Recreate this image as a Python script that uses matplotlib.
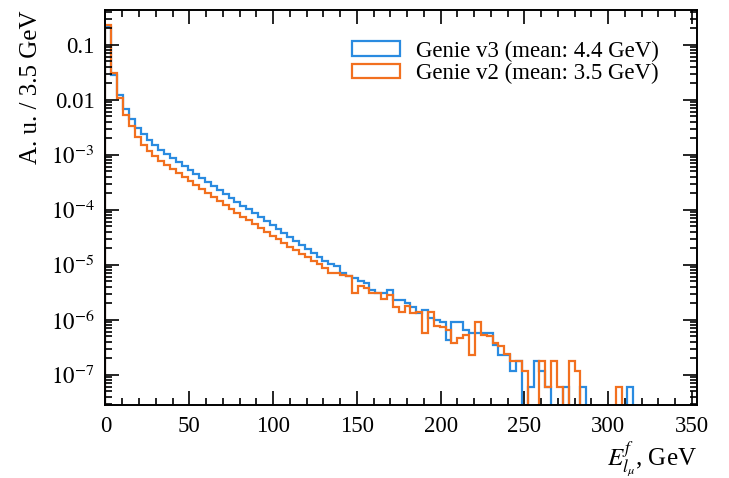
import numpy as np
import matplotlib
matplotlib.use("Agg")
import matplotlib.pyplot as plt
from matplotlib.patches import Patch
from matplotlib.ticker import MultipleLocator, LogLocator, FuncFormatter, NullFormatter

# distribuicao normalizada, bins de 3.5 GeV entre 0 e 350 GeV
bin_edges = np.linspace(0, 350, 101)

genie_v3 = [0.212, 0.0285, 0.0123, 6.78e-3, 4.46e-3, 3.13e-3, 2.41e-3, 1.87e-3, 1.52e-3, 1.23e-3,
            1.04e-3, 8.82e-4, 7.46e-4, 6.31e-4, 5.34e-4, 4.51e-4, 3.82e-4, 3.23e-4, 2.73e-4, 2.31e-4,
            1.95e-4, 1.65e-4, 1.40e-4, 1.18e-4, 1.02e-4, 8.63e-5, 7.31e-5, 6.18e-5, 5.23e-5, 4.42e-5,
            3.74e-5, 3.16e-5, 2.67e-5, 2.31e-5, 1.95e-5, 1.65e-5, 1.40e-5, 1.18e-5, 1.02e-5, 9.6e-6,
            7.0e-6, 6.3e-6, 5.7e-6, 5.0e-6, 4.6e-6, 3.5e-6, 3.1e-6, 3.1e-6, 3.5e-6, 2.3e-6,
            2.3e-6, 2.0e-6, 1.75e-6, 1.35e-6, 1.52e-6, 1.1e-6, 1.0e-6, 9.3e-7, 4.3e-7, 9.0e-7,
            9.0e-7, 6.6e-7, 5.8e-7, 5.7e-7, 5.7e-7, 5.7e-7, 3.5e-7, 2.3e-7, 2.3e-7, 1.2e-7,
            1.8e-7, 0, 6e-8, 1.8e-7, 1.2e-7, 6e-8, 0, 0, 6e-8, 0,
            0, 6e-8, 0, 0, 0, 0, 0, 0, 0, 6e-8,
            0, 0, 0, 0, 0, 0, 0, 0, 0, 0]

genie_v2 = [0.231, 0.031, 0.0110, 5.34e-3, 3.37e-3, 2.12e-3, 1.52e-3, 1.18e-3, 9.39e-4, 7.62e-4,
            6.44e-4, 5.45e-4, 4.61e-4, 3.90e-4, 3.30e-4, 2.79e-4, 2.36e-4, 2.0e-4, 1.72e-4, 1.46e-4,
            1.23e-4, 1.04e-4, 8.82e-5, 7.46e-5, 6.44e-5, 5.45e-5, 4.71e-5, 3.98e-5, 3.37e-5, 2.91e-5,
            2.51e-5, 2.12e-5, 1.84e-5, 1.58e-5, 1.37e-5, 1.18e-5, 1.02e-5, 8.8e-6, 7.2e-6, 7.1e-6,
            6.6e-6, 6.3e-6, 3.05e-6, 4.15e-6, 3.77e-6, 3.14e-6, 3.14e-6, 2.38e-6, 2.85e-6, 1.75e-6,
            1.42e-6, 1.8e-6, 1.32e-6, 1.42e-6, 5.7e-7, 1.42e-6, 7.8e-7, 7.4e-7, 6.6e-7, 3.77e-7,
            4.6e-7, 5.3e-7, 2.3e-7, 9.3e-7, 5.3e-7, 5.0e-7, 3.8e-7, 3.3e-7, 2.4e-7, 1.8e-7,
            1.8e-7, 1.2e-7, 0, 0, 1.8e-7, 6e-8, 1.8e-7, 6e-8, 0, 1.8e-7,
            1.2e-7, 0, 0, 0, 0, 0, 0, 6e-8, 0, 0,
            0, 0, 0, 0, 0, 0, 0, 0, 0, 0]

labels = ["Genie v3 (mean: 4.4 GeV)", "Genie v2 (mean: 3.5 GeV)"]
cores = ["#2a8be0", "#f2701f"]

plt.rcParams['font.family'] = ['Liberation Serif', 'DejaVu Serif']
plt.rcParams['mathtext.fontset'] = 'stix'

fig = plt.figure(figsize=(7.29, 4.78), dpi=100)
ax = fig.add_axes([0.1447, 0.153, 0.8113, 0.826])

ax.stairs(genie_v3, bin_edges, color=cores[0], lw=1.6)
ax.stairs(genie_v2, bin_edges, color=cores[1], lw=1.6)

ax.set_yscale('log')
ax.set_xlim(0, 353)
ax.set_ylim(2.85e-8, 0.43)

# ticks para dentro nos quatro lados
ax.xaxis.set_major_locator(MultipleLocator(50))
ax.xaxis.set_minor_locator(MultipleLocator(10))
ax.yaxis.set_major_locator(LogLocator(base=10, numticks=20))
ax.yaxis.set_minor_locator(LogLocator(base=10, subs=np.arange(2, 10), numticks=20))
ax.yaxis.set_minor_formatter(NullFormatter())

def fmt_y(v, pos):
    e = int(round(np.log10(v)))
    if e >= -2:
        return f"{v:g}"
    return r"$10^{%d}$" % e

ax.yaxis.set_major_formatter(FuncFormatter(fmt_y))
ax.tick_params(which='both', direction='in', top=True, right=True, width=1.2)
ax.tick_params(which='major', length=10, labelsize=16.5, pad=8)
ax.tick_params(which='minor', length=5)
for s in ax.spines.values():
    s.set_linewidth(1.4)

ax.set_ylabel("A. u. / 3.5 GeV", fontsize=18, loc='top', labelpad=6)
ax.set_xlabel(r"$E^{f}_{l_{\mu}}$, GeV", fontsize=18, loc='right', labelpad=2)

# legenda com retangulos vazios
handles = [Patch(facecolor='none', edgecolor=c, lw=1.6) for c in cores]
ax.legend(handles, labels, loc='upper right', bbox_to_anchor=(0.97, 0.975), frameon=False,
          fontsize=16.5, handlelength=2.1, handleheight=0.6, handletextpad=0.7, labelspacing=0.05)

fig.savefig("out.png", dpi=100)
